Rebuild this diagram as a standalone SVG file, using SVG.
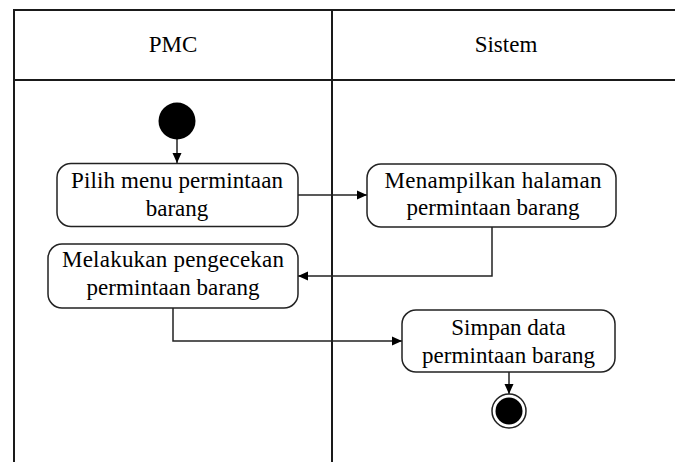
<svg xmlns="http://www.w3.org/2000/svg" width="675" height="462" viewBox="0 0 675 462">
<style>
.lane{stroke:#1a1a1a;stroke-width:2;fill:none}
.box{fill:#fff;stroke:#222;stroke-width:1.5}
.t{font-family:"Liberation Serif","Times New Roman",serif;font-size:23px;fill:#000;text-anchor:middle}
.c{fill:none;stroke:#222;stroke-width:1.5}
</style>
<defs>
<marker id="ah" viewBox="0 0 10 10" refX="10" refY="5" markerWidth="10" markerHeight="10" markerUnits="userSpaceOnUse" orient="auto">
<path d="M0,0.5 L10,5 L0,9.5 Z" fill="#000"/>
</marker>
</defs>
<rect width="675" height="462" fill="#fff"/>
<g id="swimlanes">
<line class="lane" x1="13" y1="10" x2="675" y2="10"/>
<line class="lane" x1="14" y1="80" x2="675" y2="80"/>
<line class="lane" x1="14" y1="9" x2="14" y2="462"/>
<line class="lane" x1="332" y1="10" x2="332" y2="462"/>
<text class="t" x="173" y="52">PMC</text>
<text class="t" x="506" y="52">Sistem</text>
</g>
<g id="connectors">
<line class="c" x1="177" y1="139" x2="177" y2="163" marker-end="url(#ah)"/>
<line class="c" x1="298" y1="195" x2="367" y2="195" marker-end="url(#ah)"/>
<polyline class="c" points="492,227 492,276 298,276" marker-end="url(#ah)"/>
<polyline class="c" points="173,308 173,341 402,341" marker-end="url(#ah)"/>
<line class="c" x1="509" y1="372" x2="509" y2="394" marker-end="url(#ah)"/>
</g>
<g id="start">
<circle cx="177" cy="121" r="18.5" fill="#000"/>
</g>
<g id="pilih-menu">
<rect class="box" x="57" y="163.5" width="241" height="63" rx="14"/>
<text class="t" x="177" y="188" textLength="212" lengthAdjust="spacing">Pilih menu permintaan</text>
<text class="t" x="177" y="216">barang</text>
</g>
<g id="menampilkan">
<rect class="box" x="367" y="164" width="249" height="63" rx="14"/>
<text class="t" x="493" y="188" textLength="217" lengthAdjust="spacing">Menampilkan halaman</text>
<text class="t" x="493" y="215" textLength="173" lengthAdjust="spacing">permintaan barang</text>
</g>
<g id="melakukan">
<rect class="box" x="48" y="244" width="250" height="64" rx="14"/>
<text class="t" x="173" y="267" textLength="222" lengthAdjust="spacing">Melakukan pengecekan</text>
<text class="t" x="173" y="295" textLength="173" lengthAdjust="spacing">permintaan barang</text>
</g>
<g id="simpan">
<rect class="box" x="402" y="310" width="213" height="62" rx="14"/>
<text class="t" x="508.5" y="335">Simpan data</text>
<text class="t" x="508.5" y="363" textLength="173" lengthAdjust="spacing">permintaan barang</text>
</g>
<g id="end">
<circle cx="509" cy="411" r="17" fill="#fff" stroke="#222" stroke-width="1.5"/>
<circle cx="509" cy="411" r="13.5" fill="#000"/>
</g>
</svg>
